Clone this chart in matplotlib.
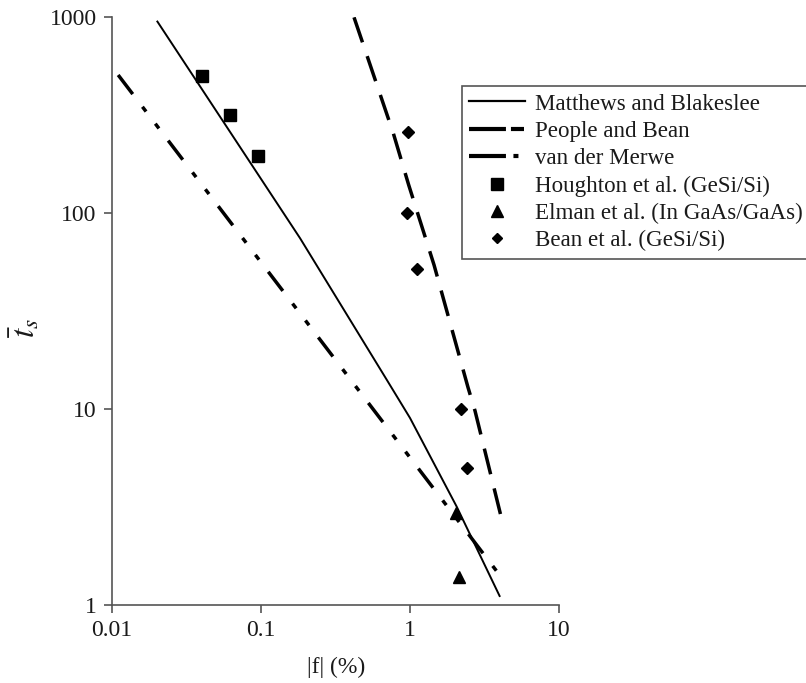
import matplotlib
matplotlib.use("Agg")
import matplotlib.pyplot as plt
from matplotlib.lines import Line2D

plt.rcParams['font.family'] = ['Liberation Serif', 'DejaVu Serif']
plt.rcParams['mathtext.fontset'] = 'stix'
plt.rcParams['lines.scale_dashes'] = False

# Matthews and Blakeslee (solid)
mb_f = [0.020, 0.183, 0.698, 1.0, 2.06, 4.02]
mb_t = [957, 74.3, 14.1, 9.0, 3.17, 1.10]

# People and Bean (dashed)
pb_f = [0.421, 0.773, 0.98, 1.45, 2.45, 2.73, 4.06]
pb_t = [996, 255, 139, 54.3, 12.9, 9.8, 2.88]

# van der Merwe (dash-dot-dot)
vm_f = [0.011, 4.0]
vm_t = [506, 1.42]

# experimental points
hough_f = [0.040, 0.062, 0.095]
hough_t = [500, 316, 196]
elman_f = [2.04, 2.13]
elman_t = [2.95, 1.39]
bean_f = [0.975, 0.95, 1.12, 2.2, 2.4]
bean_t = [260, 100, 51.6, 10, 5.0]

x_ticks = [0.01, 0.1, 1, 10]
x_labels = ["0.01", "0.1", "1", "10"]
y_ticks = [1, 10, 100, 1000]
y_labels = ["1", "10", "100", "1000"]

labels = ["Matthews and Blakeslee", "People and Bean", "van der Merwe",
          "Houghton et al. (GeSi/Si)", "Elman et al. (In GaAs/GaAs)",
          "Bean et al. (GeSi/Si)"]

fig = plt.figure(figsize=(8.06, 6.83), dpi=100)
ax = fig.add_axes([112/806, 1 - 605/683, (559 - 112)/806, (605 - 17)/683])

ax.plot(mb_f, mb_t, color='k', lw=1.4, solid_capstyle='butt')
ax.plot(pb_f, pb_t, color='k', lw=2.5, dashes=(19, 10.5), dash_capstyle='butt')
ax.plot(vm_f, vm_t, color='k', lw=2.5, dashes=(17.3, 11.5, 4.3, 11, 4.3, 11),
        dash_capstyle='butt')
ax.plot(hough_f, hough_t, ls='none', marker='s', ms=8.4, color='k')
ax.plot(elman_f, elman_t, ls='none', marker='^', ms=8.5, color='k')
ax.plot(bean_f, bean_t, ls='none', marker='D', ms=6, color='k')

ax.set_xscale('log')
ax.set_yscale('log')
ax.set_xlim(0.01, 10)
ax.set_ylim(1, 1000)
ax.set_xticks(x_ticks, x_labels)
ax.set_yticks(y_ticks, y_labels)
ax.minorticks_off()
ax.tick_params(direction='out', length=6, width=1.2, color='#555',
               labelsize=17, labelcolor='#1a1a1a', pad=5)
for s in ['top', 'right']:
    ax.spines[s].set_visible(False)
for s in ['left', 'bottom']:
    ax.spines[s].set_color('#555')
    ax.spines[s].set_linewidth(1.2)

fig.text(336/806, 1 - 667/683, "|f| (%)", ha='center', va='center',
         fontsize=17, color='#1a1a1a')
fig.text(25/806, 1 - 328/683, r"$\bar{t}_s$", ha='center', va='center',
         rotation=90, fontsize=24, color='#1a1a1a')

handles = [
    Line2D([], [], color='k', lw=1.6),
    Line2D([], [], color='k', lw=3, dashes=(26.6, 3.6, 9.4, 3.6)),
    Line2D([], [], color='k', lw=3, dashes=(26.6, 5.4, 3.6, 10)),
    Line2D([], [], color='k', ls='none', marker='s', ms=8),
    Line2D([], [], color='k', ls='none', marker='^', ms=8),
    Line2D([], [], color='k', ls='none', marker='D', ms=5.5),
]
leg = fig.legend(handles, labels, loc='upper left',
                 bbox_to_anchor=(462/806, 1 - 86/683),
                 bbox_transform=fig.transFigure, borderaxespad=0,
                 fancybox=False, edgecolor='#555', framealpha=1,
                 fontsize=16.6, handlelength=2.4, handletextpad=0.45,
                 labelspacing=0.27, borderpad=0.32)
leg.get_frame().set_linewidth(1.2)
for t in leg.get_texts():
    t.set_color('#1a1a1a')

fig.savefig("out.png", dpi=100)
